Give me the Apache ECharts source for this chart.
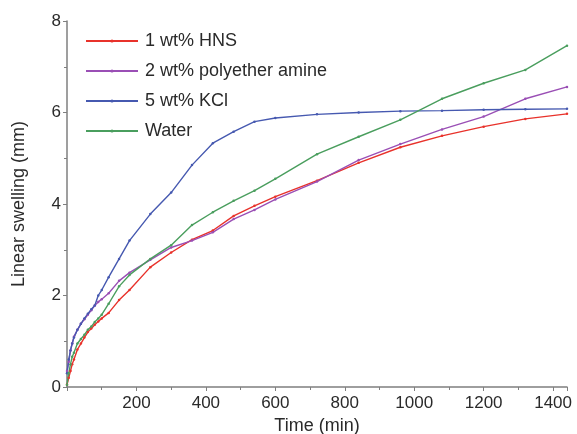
<!DOCTYPE html>
<html>
<head>
<meta charset="utf-8">
<script src="https://cdn.jsdelivr.net/npm/echarts@6/dist/echarts.min.js"></script>
<style>
  html, body { margin: 0; padding: 0; background: #fff; }
  #chart { width: 577px; height: 434px; }
</style>
</head>
<body>
<div id="chart"></div>
<script>
// time points (min)
var times = [0, 5, 10, 15, 20, 30, 40, 50, 60, 70, 80, 90, 100, 120, 150, 180, 240, 300, 360, 420, 480, 540, 600, 720, 840, 960, 1080, 1200, 1320, 1440];
// linear swelling (mm)
var hns = [0.05, 0.2, 0.35, 0.5, 0.6, 0.82, 0.95, 1.08, 1.2, 1.28, 1.36, 1.43, 1.5, 1.62, 1.9, 2.12, 2.62, 2.94, 3.22, 3.42, 3.74, 3.96, 4.16, 4.51, 4.9, 5.24, 5.49, 5.69, 5.86, 5.97];
var polyetherAmine = [0.35, 0.55, 0.8, 0.95, 1.1, 1.25, 1.38, 1.48, 1.58, 1.68, 1.78, 1.86, 1.92, 2.05, 2.32, 2.5, 2.78, 3.05, 3.2, 3.38, 3.67, 3.87, 4.1, 4.49, 4.96, 5.31, 5.63, 5.91, 6.3, 6.56];
var kcl = [0.3, 0.6, 0.8, 0.95, 1.08, 1.25, 1.38, 1.5, 1.6, 1.7, 1.78, 2.0, 2.12, 2.4, 2.8, 3.2, 3.78, 4.25, 4.85, 5.33, 5.58, 5.8, 5.88, 5.96, 6.0, 6.03, 6.04, 6.06, 6.07, 6.08];
var water = [0.05, 0.3, 0.5, 0.66, 0.75, 0.95, 1.05, 1.14, 1.25, 1.32, 1.42, 1.5, 1.58, 1.82, 2.2, 2.45, 2.8, 3.1, 3.54, 3.82, 4.07, 4.29, 4.55, 5.09, 5.47, 5.84, 6.3, 6.64, 6.93, 7.46];

var names = ['1 wt% HNS', '2 wt% polyether amine', '5 wt% KCl', 'Water'];
var colors = ['#e8322b', '#9a4fb5', '#4659b0', '#4a9e5e'];
var values = [hns, polyetherAmine, kcl, water];

function pairs(ys) {
  return times.map(function (t, i) { return [t, ys[i]]; });
}

var axisColor = '#7f7f7f';
var textColor = '#2a2a2a';
var font = 'Liberation Sans, Arial, sans-serif';

var chart = echarts.init(document.getElementById('chart'));
chart.setOption({
  animation: false,
  backgroundColor: '#fff',
  grid: { left: 67, top: 21, right: 10, bottom: 47, outerBoundsMode: 'none', containLabel: false },
  legend: {
    orient: 'vertical',
    left: 80,
    top: 27,
    itemWidth: 52,
    itemHeight: 4,
    itemGap: 12,
    textStyle: { fontSize: 18, color: textColor, fontFamily: font, padding: [0, 0, 0, 2] },
    data: names
  },
  xAxis: {
    type: 'value',
    min: 0,
    max: 1440,
    interval: 200,
    name: 'Time (min)',
    nameLocation: 'middle',
    nameGap: 30,
    nameTextStyle: { fontSize: 18, color: textColor, fontFamily: font },
    axisLine: { show: true, lineStyle: { color: axisColor, width: 1.5 } },
    axisTick: { show: true, length: 4, lineStyle: { color: axisColor } },
    minorTick: { show: true, splitNumber: 2, length: 3, lineStyle: { color: axisColor } },
    splitLine: { show: false },
    axisLabel: {
      fontSize: 17, color: textColor, fontFamily: font, margin: 8,
      showMinLabel: false, showMaxLabel: false,
      formatter: function (v) { return String(v); }
    }
  },
  yAxis: {
    type: 'value',
    min: 0,
    max: 8,
    interval: 2,
    name: 'Linear swelling (mm)',
    nameLocation: 'middle',
    nameGap: 39,
    nameTextStyle: { fontSize: 18, color: textColor, fontFamily: font },
    axisLine: { show: true, lineStyle: { color: axisColor, width: 1.5 } },
    axisTick: { show: true, length: 4, lineStyle: { color: axisColor } },
    minorTick: { show: true, splitNumber: 2, length: 3, lineStyle: { color: axisColor } },
    splitLine: { show: false },
    axisLabel: { fontSize: 17, color: textColor, fontFamily: font, margin: 6 }
  },
  series: names.map(function (n, i) {
    return {
      name: n,
      type: 'line',
      data: pairs(values[i]),
      symbol: 'circle',
      symbolSize: 2.5,
      showAllSymbol: true,
      color: colors[i],
      lineStyle: { width: 1.4, color: colors[i] },
      itemStyle: { color: colors[i] }
    };
  })
});
</script>
</body>
</html>
